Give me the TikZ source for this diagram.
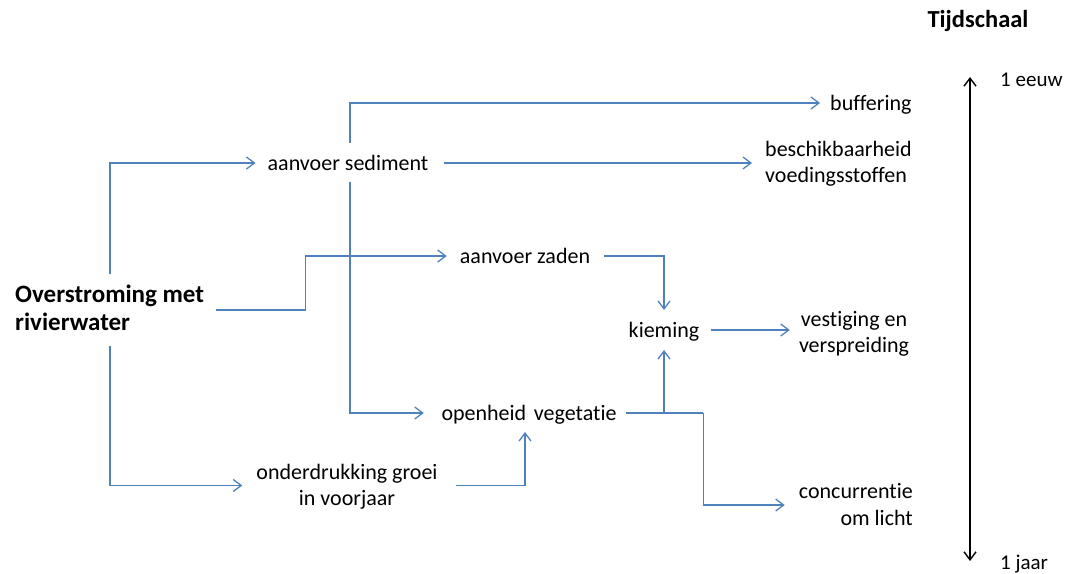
\documentclass[tikz,border=0pt]{standalone}
\usepackage{fontspec}
\setmainfont{Carlito}[Ligatures=NoCommon]
\usetikzlibrary{arrows.meta,calc}
\definecolor{lineblue}{RGB}{79,129,189}
\tikzset{
  lbl/.style={inner sep=0pt, font=\fontsize{22}{26}\selectfont, text height=14pt, text depth=0pt},
  lbltwo/.style={lbl, text height=40pt},
  conn/.style={draw=lineblue, line width=1.3pt, -{Straight Barb[length=8pt,width=12pt,line width=1.3pt]}},
  plain/.style={draw=lineblue, line width=1.3pt},
  scale arrow/.style={draw=black, line width=1.4pt, {Straight Barb[length=8pt,width=12pt,line width=1.4pt]}-{Straight Barb[length=8pt,width=12pt,line width=1.4pt]}}
}
\begin{document}
\begin{tikzpicture}[x=1pt,y=-1pt]
\useasboundingbox (0,0) rectangle (1070,573);
% nodes
\node[lbl, anchor=west, align=left, font=\fontsize{25}{27.5}\selectfont\bfseries, text height=43.5pt] (ov) at (15,308.5) {Overstroming met\\rivierwater};
\node[lbl] (sed) at (348,163) {aanvoer sediment};
\node[lbl] (zad) at (525,256) {aanvoer zaden};
\node[lbl, anchor=west] (buf) at (830,103) {buffering};
\node[lbltwo, anchor=west, align=left] (bes) at (765,162.5) {beschikbaarheid\\voedingsstoffen};
\node[lbl] (kie) at (664,330) {kieming};
\node[lbltwo, align=center] (ves) at (854,332.5) {vestiging en\\verspreiding};
\node[lbl, minimum width=184pt] (ope) at (529,413) {openheid\hspace{0.35em}vegetatie};
\node[lbltwo, align=center] (ond) at (347,485.5) {onderdrukking groei\\in voorjaar};
\node[lbl, anchor=east, align=right, font=\fontsize{22}{27}\selectfont, text height=41pt] (con) at (913,505) {concurrentie\hspace{6pt}\\om licht};
\node[lbl, font=\fontsize{24.5}{28}\selectfont\bfseries, text height=15.7pt] (tijd) at (978,20) {Tijdschaal};
\node[lbl, anchor=west, font=\fontsize{21}{26}\selectfont, text height=13.4pt] (eeuw) at (1000,80) {1 eeuw};
\node[lbl, anchor=west, font=\fontsize{21}{26}\selectfont, text height=13.4pt] (jaar) at (1000,563) {1 jaar};
\coordinate (top) at (970,77);
\coordinate (bot) at (970,561);
\coordinate (o1) at (110,274);
\coordinate (o2) at (110,346);
% connectors
\draw[conn] (o1) |- ([xshift=-12]sed.west);
\draw[conn] ([shift={(12,1.5)}]ov.east) -- ++(89,0) |- ([xshift=-13]zad.west);
\draw[conn] ([shift={(2,-20)}]sed.center) |- ([xshift=-10]buf.west);
\draw[conn] ([shift={(2,19)}]sed.center) |- ([xshift=-13]ope.west);
\draw[conn] ([xshift=15]sed.east) -- ([xshift=-13]sed.east -| bes.west);
\draw[conn] (o2) |- ([xshift=-14]ond.west);
\draw[conn] ([xshift=18]ond.east) -| ([shift={(-4,19)}]ope.center);
\draw[conn] ([xshift=14]zad.east) -| ([shift={(0,-20)}]kie.center);
\draw[plain] ([xshift=5]ope.east) -- ++(77,0) coordinate (b1);
\draw[conn] (b1) |- ([xshift=-14]con.west);
\draw[conn] (kie.center |- ope.center) -- ([shift={(0,20)}]kie.center);
\draw[conn] ([xshift=12]kie.east) -- ([xshift=-9]kie.east -| ves.west);
\draw[scale arrow] (top) -- (bot);
\end{tikzpicture}
\end{document}
